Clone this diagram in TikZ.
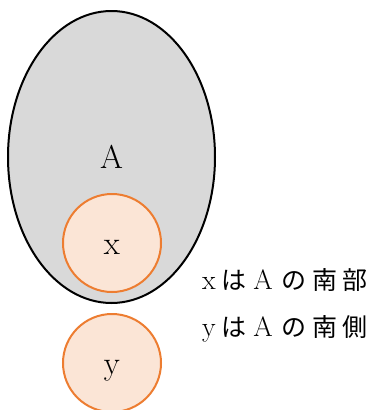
\documentclass[tikz,border=0pt]{standalone}
\usepackage{fontspec}
\newfontfamily\cjk{Noto Sans CJK JP}
\usetikzlibrary{shapes.geometric}
\definecolor{regiongray}{HTML}{D9D9D9}
\definecolor{orfill}{HTML}{FBE5D6}
\definecolor{ordraw}{HTML}{ED7D31}
\newcommand{\jp}[1]{{\cjk\fontsize{25}{28}\selectfont #1}}
\begin{document}
\begin{tikzpicture}[x=1pt,y=-1pt,
  region/.style={ellipse,draw=black,fill=regiongray,line width=2pt,minimum width=207pt,minimum height=292pt,inner sep=0pt,font=\fontsize{33}{40}\selectfont},
  pt/.style={circle,draw=ordraw,fill=orfill,line width=2pt,minimum size=98pt,inner sep=0pt,text height=22pt,text depth=0pt,font=\fontsize{33}{40}\selectfont},
  note/.style={anchor=west,inner sep=0pt,font=\fontsize{28}{32}\selectfont}]
\useasboundingbox (0,0) rectangle (372,410);
\node[region] (A) at (111.5,157) {A};
\node[pt] (x) at (112,243) {x};
\node[pt] (y) at (112,363) {y};
\node[note] (t1) at (202,280) {x\hspace{6pt}\jp{は}\hspace{6.7pt}A\hspace{8.5pt}\jp{の}\hspace{6.5pt}\jp{南}\hspace{5pt}\jp{部}};
\node[note] (t2) at (202,329) {y\hspace{6pt}\jp{は}\hspace{6.7pt}A\hspace{8.5pt}\jp{の}\hspace{6.5pt}\jp{南}\hspace{5pt}\jp{側}};
\end{tikzpicture}
\end{document}
